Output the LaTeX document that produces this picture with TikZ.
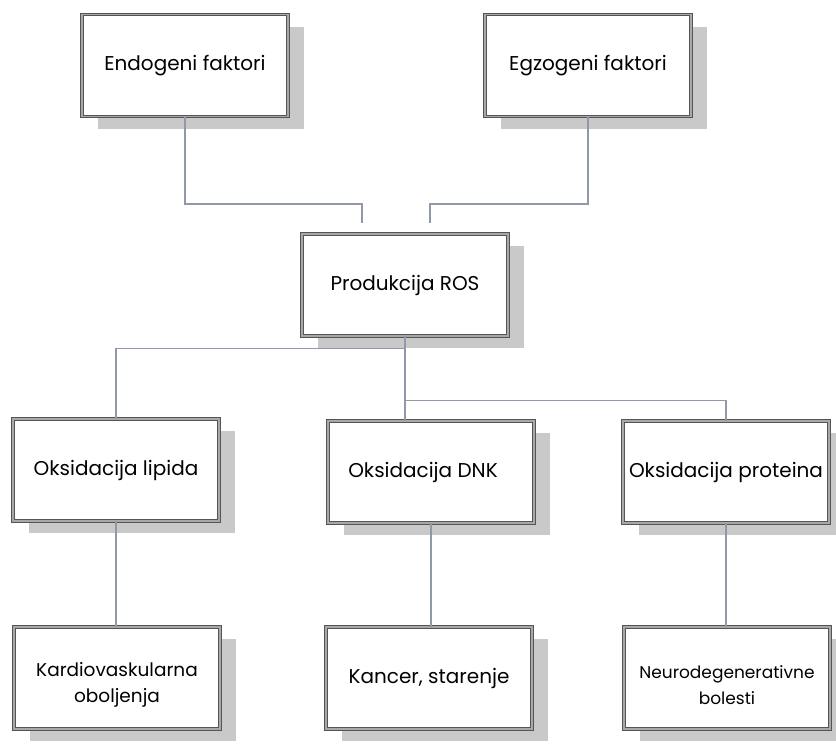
\documentclass[tikz,border=0pt]{standalone}
\usepackage{fontspec}
\setmainfont{Poppins}
\usetikzlibrary{shadows}
\definecolor{conn}{HTML}{9098AA}
\definecolor{frame}{HTML}{555555}
\definecolor{shade}{HTML}{C9C9C9}
\definecolor{midgray}{HTML}{A8A8A8}
\begin{document}
\begin{tikzpicture}[x=1pt,y=-1pt,
  box/.style={draw=frame, double=midgray, double distance=1.6pt, line width=0.9pt,
    fill=white, minimum width=206pt, minimum height=102pt, align=center, inner sep=0pt,
    drop shadow={shadow xshift=16pt, shadow yshift=-12pt, fill=shade, opacity=1},
    font=\fontsize{20}{26}\selectfont},
  midtext/.style={font=\fontsize{18.5}{26}\selectfont},
  smalltext/.style={font=\fontsize{17}{26}\selectfont},
  conline/.style={draw=conn, line width=1.6pt}]
\useasboundingbox[fill=white] (0,0) rectangle (836,745);

\coordinate (j1) at (362,223);
\coordinate (j2) at (430,223);

\node[box] (endo) at (185,65.5) {Endogeni faktori};
\node[box] (egzo) at (588,65.5) {Egzogeni faktori};
\node[box] (ros) at (405,285) {Produkcija ROS};
\node[box] (lip) at (116,470) {Oksidacija lipida};
\node[box] (dnk) at (431,472) {Oksidacija DNK\hspace*{16pt}};
\node[box] (prot) at (726,472) {Oksidacija proteina};
\node[box, midtext] (kard) at (117,678) {\rule{0pt}{28pt}Kardiovaskularna\\oboljenja};
\node[box] (kanc) at (429,678) {Kancer, starenje};
\node[box, smalltext] (neur) at (727,678) {\rule{0pt}{28pt}Neurodegenerativne\\bolesti};

\draw[conline] (endo.south) -- ++(0,87) -| (j1);
\draw[conline] (egzo.south) -- ++(0,87) -| (j2);
\draw[conline] (ros.south) -- ++(0,12) -| (lip.north);
\draw[conline] (ros.south) -- ++(0,64) -| (prot.north);
\draw[conline] (ros.south) -- (ros.south |- dnk.north);
\draw[conline] (lip.south) -- (lip.south |- kard.north);
\draw[conline] (dnk.south) -- (dnk.south |- kanc.north);
\draw[conline] (prot.south) -- (prot.south |- neur.north);
\end{tikzpicture}
\end{document}
